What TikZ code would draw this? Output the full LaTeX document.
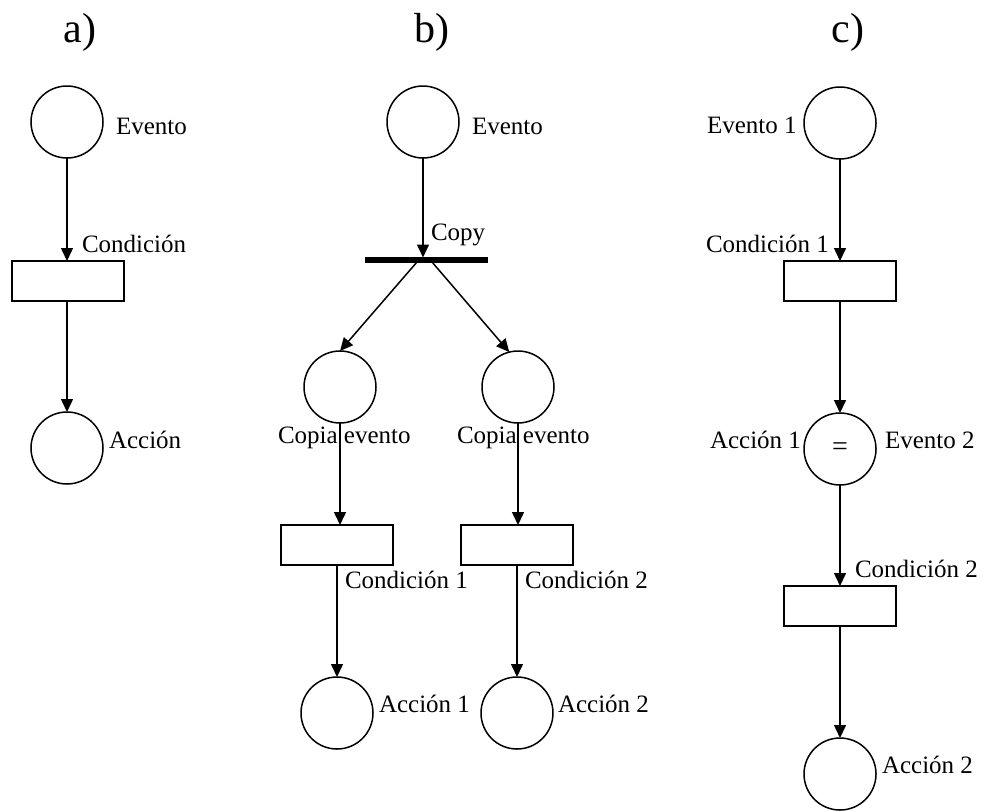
\documentclass[tikz,border=0pt]{standalone}
\usepackage{fontspec}
\setmainfont{Liberation Serif}
\usetikzlibrary{arrows.meta}
\begin{document}
\begin{tikzpicture}[x=1pt,y=-1pt,
  every node/.style={inner sep=0pt, outer sep=0pt},
  place/.style={draw, circle, line width=1.5pt, minimum size=72pt},
  trans/.style={draw, rectangle, line width=1.5pt, minimum width=112pt, minimum height=40pt},
  lbl/.style={anchor=base west, font=\fontsize{25}{30}\selectfont},
  ttl/.style={anchor=base, font=\fontsize{42}{48}\selectfont},
  arc/.style={line width=1.5pt, -{Triangle[length=13pt,width=12pt]}}]
\useasboundingbox (0,0) rectangle (984,811);

% titles
\node[ttl] (ta) at (80,42) {a)};
\node[ttl] (tb) at (432,42) {b)};
\node[ttl] (tc) at (848,42) {c)};

% panel a
\node[place] (ea) at (67,122) {};
\node[trans] (ra) at (68,281) {};
\node[place] (aa) at (67,448) {};
\node[lbl] (lea) at (116,134) {Evento};
\node[lbl] (lca) at (82,252) {Condición};
\node[lbl] (laa) at (109,448) {Acción};
\draw[arc] (ea) -- (ea |- ra.north);
\draw[arc] (ra.south -| aa) -- (aa);

% panel b
\node[place] (eb) at (423,122) {};
\node[draw, fill=black, minimum width=122pt, minimum height=5pt] (bar) at (426,260) {};
\node[place] (cl) at (340,387) {};
\node[place] (cr) at (518,387) {};
\node[trans] (rl) at (337,545) {};
\node[trans] (rr) at (517,545) {};
\node[place] (al) at (337,713) {};
\node[place] (ar) at (517,713) {};
\coordinate (bl) at (417,262);
\coordinate (br) at (432,262);
\node[lbl] (leb) at (472,134) {Evento};
\node[lbl] (lcp) at (431,240) {Copy};
\node[lbl] (lcl) at (278,443) {Copia evento};
\node[lbl] (lcr) at (457,443) {Copia evento};
\node[lbl] (lc1) at (345,588) {Condición 1};
\node[lbl] (lc2) at (525,588) {Condición 2};
\node[lbl] (la1) at (379,712) {Acción 1};
\node[lbl] (la2) at (558,712) {Acción 2};
\draw[arc] (eb) -- (eb |- bar.north);
\draw[arc] (bl) -- (cl.north);
\draw[arc] (br) -- (cr.104);
\draw[arc] (cl) -- (cl |- rl.north);
\draw[arc] (cr) -- (cr |- rr.north);
\draw[arc] (rl) -- (al);
\draw[arc] (rr) -- (ar);

% panel c
\node[place] (e1) at (840,123) {};
\node[trans] (t1) at (840,281) {};
\node[place] (m) at (840,449) {\fontsize{28}{32}\selectfont =};
\node[trans] (t2) at (840,606) {};
\node[place] (a2) at (840,774) {};
\node[lbl] (le1) at (707,133) {Evento 1};
\node[lbl] (lc1c) at (706,252) {Condición 1};
\node[lbl] (la1c) at (710,448) {Acción 1};
\node[lbl] (le2) at (885,448) {Evento 2};
\node[lbl] (lc2c) at (855,577) {Condición 2};
\node[lbl] (la2c) at (882,773) {Acción 2};
\draw[arc] (e1) -- (t1);
\draw[arc] (t1) -- (m);
\draw[arc] (m) -- (t2);
\draw[arc] (t2) -- (a2);
\end{tikzpicture}
\end{document}
